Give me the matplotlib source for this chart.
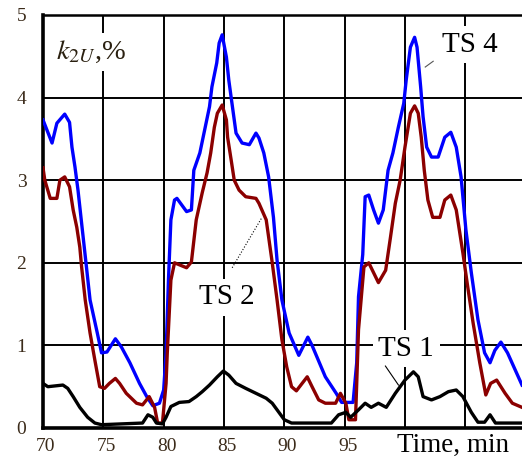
import numpy as np
import matplotlib
matplotlib.use("Agg")
import matplotlib.pyplot as plt
from matplotlib.transforms import ScaledTranslation

# TS 4 (blue)
ts4_t = [70.0, 70.75, 71.15, 71.8, 72.2, 72.4, 72.65, 72.9, 73.2, 73.6, 73.9, 74.5, 74.85,
         75.3, 76.0, 76.5, 77.2, 78.0, 78.6, 79.1, 79.65, 80.0, 80.2, 80.4, 80.6, 80.9, 81.1,
         81.9, 82.3, 82.5, 83.0, 83.4, 83.8, 84.0, 84.4, 84.6, 84.85, 85.2, 85.4, 85.7, 86.0,
         86.5, 87.1, 87.65, 87.9, 88.3, 88.7, 89.1, 89.4, 89.8, 90.4, 91.2, 91.95, 92.3, 93.4,
         94.3, 94.75, 95.7, 96.0, 96.15, 96.5, 96.7, 97.0, 97.4, 97.8, 98.2, 98.6, 99.0, 99.45,
         99.9, 100.1, 100.45, 100.8, 101.0, 101.3, 101.5, 101.8, 102.2, 102.75, 103.3, 103.8,
         104.25, 104.65, 105.05, 105.5, 106.05, 106.6, 107.05, 107.45, 107.95, 108.5, 109.7]
ts4_k = [3.73, 3.45, 3.69, 3.80, 3.70, 3.40, 3.16, 2.88, 2.48, 1.95, 1.55, 1.15, 0.91,
         0.92, 1.08, 0.98, 0.79, 0.54, 0.38, 0.27, 0.30, 0.46, 0.90, 1.80, 2.52, 2.76, 2.78,
         2.62, 2.64, 3.12, 3.33, 3.61, 3.89, 4.13, 4.42, 4.66, 4.76, 4.49, 4.21, 3.89, 3.57,
         3.45, 3.43, 3.57, 3.51, 3.33, 3.04, 2.55, 2.03, 1.55, 1.15, 0.88, 1.10, 1.00, 0.62,
         0.42, 0.31, 0.31, 0.79, 1.59, 2.10, 2.80, 2.82, 2.64, 2.48, 2.64, 3.12, 3.33, 3.64,
         3.93, 4.21, 4.61, 4.73, 4.61, 4.13, 3.77, 3.40, 3.28, 3.28, 3.52, 3.58,
         3.40, 3.04, 2.40, 1.88, 1.31, 0.91, 0.79, 0.94, 1.04, 0.91, 0.52]

# TS 2 (dark red)
ts2_t = [70.0, 70.15, 70.6, 71.15, 71.4, 71.8, 72.2, 72.5, 72.8, 73.05, 73.2, 73.5, 73.9,
         74.3, 74.7, 75.1, 75.5, 76.0, 76.35, 76.9, 77.75, 78.25, 78.8, 79.25, 79.5, 79.9,
         80.2, 80.3, 80.6, 80.9, 81.9, 82.3, 82.7, 83.2, 83.6, 83.9, 84.2, 84.45, 84.85, 85.2,
         85.3, 85.6, 85.85, 86.25, 86.8, 87.65, 87.9, 88.5, 89.0, 89.4, 89.8, 90.2, 90.6,
         91.0, 91.9, 92.3, 92.85, 93.4, 94.25, 94.65, 95.1, 95.35, 95.9, 96.15, 96.6, 97.0,
         97.8, 98.4, 98.8, 99.2, 99.6, 100.0, 100.45, 100.8, 101.1, 101.35, 101.6, 101.9,
         102.3, 102.9, 103.3, 103.8, 104.25, 104.8, 105.2, 105.65, 106.2, 106.7, 107.1,
         107.6, 108.3, 108.9, 109.7]
ts2_k = [3.15, 3.00, 2.78, 2.78, 3.00, 3.04, 2.92, 2.64, 2.43, 2.19, 1.95, 1.55, 1.15,
         0.82, 0.50, 0.48, 0.54, 0.60, 0.54, 0.42, 0.30, 0.28, 0.38, 0.25, 0.06, 0.06,
         0.54, 0.91, 1.79, 2.00, 1.94, 2.01, 2.52, 2.85, 3.09, 3.33, 3.64, 3.81, 3.91, 3.73,
         3.52, 3.24, 3.00, 2.88, 2.80, 2.78, 2.72, 2.52, 2.00, 1.55, 1.07, 0.74, 0.50,
         0.45, 0.62, 0.50, 0.34, 0.30, 0.30, 0.42, 0.30, 0.10, 0.10, 1.19, 1.95, 2.00,
         1.76, 1.91, 2.31, 2.72, 3.00, 3.40, 3.81, 3.90, 3.81, 3.52, 3.12, 2.76,
         2.55, 2.55, 2.76, 2.82, 2.64, 2.12, 1.71, 1.27, 0.79, 0.40, 0.54,
         0.58, 0.42, 0.30, 0.25]

# TS 1 (black)
ts1_t = [70.0, 70.4, 71.65, 72.05, 72.5, 73.05, 73.7, 74.3, 74.85, 78.25, 78.7, 79.1, 79.4,
         79.9, 80.2, 80.6, 81.3, 82.1, 82.7, 83.2, 83.8, 84.45, 84.95, 85.4, 86.0, 86.8,
         87.65, 88.5, 89.0, 89.55, 90.0, 90.6, 93.9, 94.5, 95.1, 95.5, 96.15, 96.7, 97.2,
         97.8, 98.45, 99.2, 100.0, 100.7, 101.1, 101.5, 102.2, 102.9, 103.6, 104.25, 104.8,
         105.5, 106.05, 106.6, 107.05, 107.5, 109.7]
ts1_k = [0.54, 0.50, 0.52, 0.48, 0.38, 0.25, 0.13, 0.06, 0.04, 0.06, 0.16, 0.13, 0.06,
         0.05, 0.13, 0.26, 0.31, 0.32, 0.38, 0.44, 0.52, 0.62, 0.69, 0.64, 0.54, 0.48,
         0.42, 0.36, 0.30, 0.19, 0.10, 0.06, 0.06, 0.16, 0.19, 0.13, 0.22, 0.30, 0.25,
         0.30, 0.25, 0.42, 0.58, 0.68, 0.62, 0.38, 0.34, 0.38, 0.44, 0.46, 0.38,
         0.19, 0.07, 0.07, 0.16, 0.06, 0.06]

x_ticks = [70, 75, 80, 85, 90, 95, 100, 105]
x_labels = ['70', '75', '80', '85', '90', '95', '', '']
y_ticks = [0, 1, 2, 3, 4, 5]

plt.rcParams['font.family'] = ['Liberation Serif', 'DejaVu Serif']
plt.rcParams['mathtext.fontset'] = 'stix'

fig = plt.figure(figsize=(5.22, 4.59), dpi=100)
ax = fig.add_axes([43 / 522, 31 / 459, 479 / 522, 413 / 459])

ax.plot(ts4_t, ts4_k, color='#0000ff', lw=2.4, zorder=5)
ax.plot(ts2_t, ts2_k, color='#8b0000', lw=2.4, zorder=5)
ax.plot(ts1_t, ts1_k, color='black', lw=2.4, zorder=5)

ax.set_xlim(70, 109.7)
ax.set_ylim(0, 5)
ax.set_xticks(x_ticks)
ax.set_xticklabels(x_labels)
ax.set_yticks(y_ticks)
ax.grid(True, color='black', lw=1.4)
ax.set_axisbelow(True)
ax.tick_params(length=0, labelsize=14, colors='#3b2b1a')
ax.tick_params(axis='x', pad=7)
ax.tick_params(axis='y', pad=12)
for lab in ax.get_xticklabels():
    lab.set_transform(lab.get_transform() + ScaledTranslation(3 / 100, 0, fig.dpi_scale_trans))

ax.spines['right'].set_visible(False)
ax.spines['left'].set_linewidth(2.6)
ax.spines['bottom'].set_linewidth(2.6)
ax.spines['top'].set_linewidth(1.8)

box = dict(facecolor='white', edgecolor='none', pad=4)
ax.text(71.1, 4.55, r'$k_{2U}$,%', fontsize=20.5, color='#2a2010', va='center', ha='left',
        bbox=box, zorder=3)
ax.text(105.4, 4.64, 'TS 4', fontsize=21, va='center', ha='center', bbox=box, zorder=3)
ax.text(85.2, 1.58, 'TS 2', fontsize=21, va='center', ha='center', bbox=box, zorder=3)
ax.text(100.1, 0.96, 'TS 1', fontsize=21, va='center', ha='center', bbox=box, zorder=3)

# leader lines
ax.plot([85.68, 88.15], [1.94, 2.55], color='black', lw=0.8, ls=':', zorder=4)
ax.plot([98.38, 99.46], [0.75, 0.52], color='black', lw=0.8, zorder=4)
ax.plot([101.68, 102.34], [4.37, 4.44], color='#555555', lw=0.8, zorder=4)

fig.text(397 / 522, 7 / 459, 'Time, min', fontsize=19.5, ha='left', va='baseline')

fig.savefig('out.png', dpi=100)
